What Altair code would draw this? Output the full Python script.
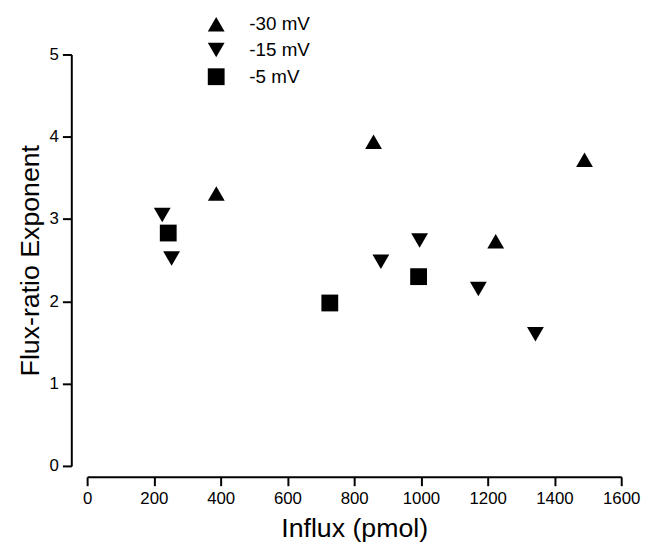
import altair as alt
import pandas as pd

series_names = ["-30 mV", "-15 mV", "-5 mV"]

x_m30 = [387, 858, 1224, 1490]
y_m30 = [3.31, 3.94, 2.73, 3.72]

x_m15 = [225, 253, 880, 996, 1172, 1343]
y_m15 = [3.05, 2.52, 2.48, 2.74, 2.15, 1.60]

x_m5 = [243, 727, 993]
y_m5 = [2.83, 1.98, 2.30]

x_ticks = [0, 200, 400, 600, 800, 1000, 1200, 1400, 1600]
y_ticks = [0, 1, 2, 3, 4, 5]

rows = []
for name, xs, ys in zip(series_names, [x_m30, x_m15, x_m5], [y_m30, y_m15, y_m5]):
    for xv, yv in zip(xs, ys):
        rows.append({"Influx": xv, "Exponent": yv, "Voltage": name})
df = pd.DataFrame(rows)

FONT = "Liberation Sans"

legend_opts = dict(title=None, orient="none", legendX=121, legendY=-40,
                   labelFontSize=19, labelFont=FONT, labelColor="black",
                   labelOffset=24, rowPadding=5, padding=0,
                   symbolFillColor="black", symbolStrokeColor="black",
                   symbolOpacity=1)

chart = alt.Chart(df).mark_point(filled=True, opacity=1, color="black").encode(
    x=alt.X("Influx:Q",
            scale=alt.Scale(domain=[0, 1600], nice=False, zero=False),
            axis=alt.Axis(values=x_ticks, title="Influx (pmol)", offset=11, format="d",
                          labelFlush=False, grid=False, labelPadding=5,
                          titlePadding=9)),
    y=alt.Y("Exponent:Q",
            scale=alt.Scale(domain=[0, 5], nice=False, zero=False),
            axis=alt.Axis(values=y_ticks, title="Flux-ratio Exponent", offset=16, format="d",
                          grid=False, labelPadding=4, titlePadding=5)),
    shape=alt.Shape("Voltage:N",
                    scale=alt.Scale(domain=series_names,
                                    range=["triangle-up", "triangle-down", "square"]),
                    legend=alt.Legend(**legend_opts)),
    size=alt.Size("Voltage:N",
                  scale=alt.Scale(domain=series_names, range=[289, 289, 175]),
                  legend=alt.Legend(**legend_opts)),
).properties(
    width=540,
    height=416,
    autosize=alt.AutoSizeParams(type="none"),
    padding={"left": 80, "top": 44, "right": 20, "bottom": 80},
).configure_view(
    stroke=None
).configure_axis(
    domainColor="black",
    domainWidth=2,
    tickColor="black",
    tickWidth=2,
    tickSize=9,
    labelFont=FONT,
    labelFontSize=17,
    labelColor="black",
    titleFont=FONT,
    titleFontSize=27,
    titleFontWeight="normal",
    titleColor="black",
)

chart.save("out.html", embed_options={"renderer": "svg", "actions": False})
